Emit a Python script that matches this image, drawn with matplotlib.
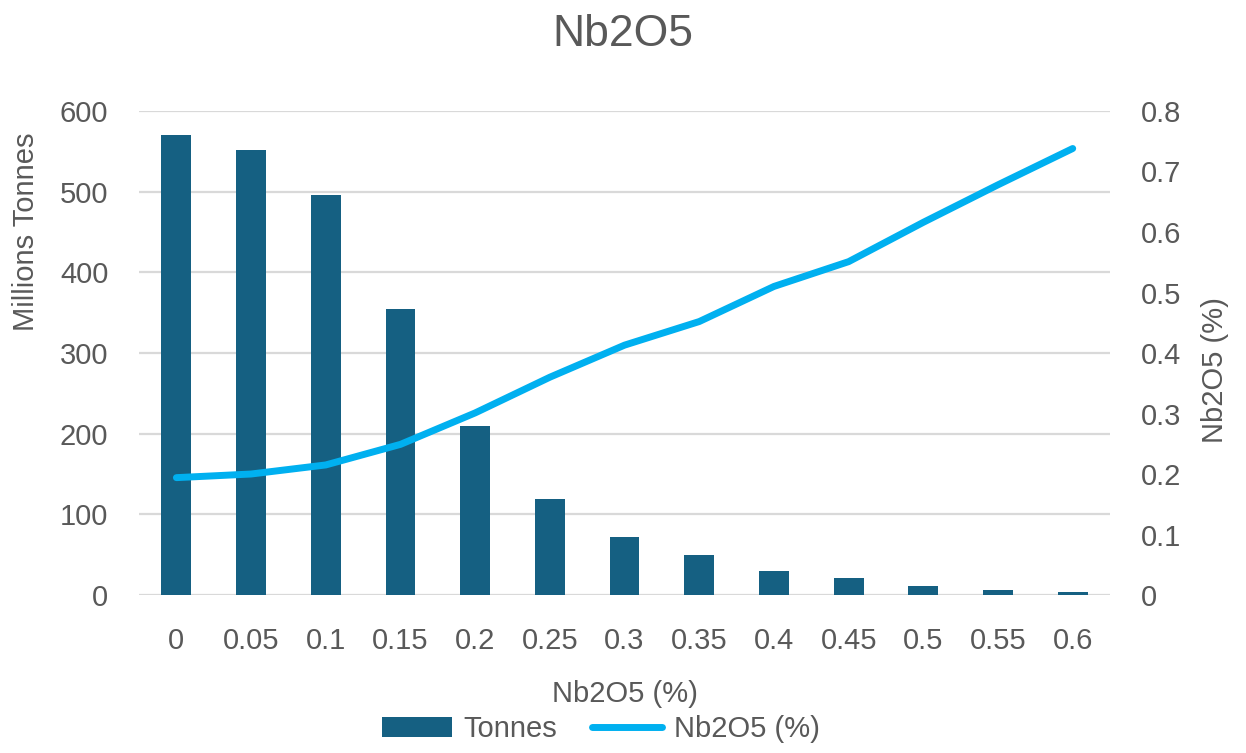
import matplotlib.pyplot as plt

plt.rcParams['font.family'] = ['Liberation Sans', 'DejaVu Sans']

cutoffs = ['0', '0.05', '0.1', '0.15', '0.2', '0.25', '0.3', '0.35', '0.4', '0.45', '0.5', '0.55', '0.6']
tonnes = [570, 552, 496, 355, 209, 119, 72, 49, 30, 21, 11, 6.5, 4]
grade = [0.194, 0.200, 0.215, 0.249, 0.301, 0.360, 0.413, 0.452, 0.510, 0.551, 0.616, 0.678, 0.738]

txt = '#595959'
x = list(range(len(cutoffs)))

fig = plt.figure(figsize=(12.46, 7.53), dpi=100)
ax = fig.add_axes([0.1116, 0.2098, 0.7793, 0.6428])
ax.bar(x, tonnes, width=0.4, color='#156082', label='Tonnes', zorder=2)
ax.set_ylim(0, 600)
ax.set_yticks(range(0, 601, 100))
ax.set_xlim(-0.5, 12.5)
ax.set_xticks(x)
ax.set_xticklabels(cutoffs)
ax.grid(axis='y', color='#d9d9d9', linewidth=1.6)
ax.set_axisbelow(True)
for s in ax.spines.values():
    s.set_visible(False)
ax.tick_params(length=0, labelsize=21, colors=txt, pad=22)
ax.tick_params(axis='x', pad=23)
ax.set_xlabel('Nb2O5 (%)', fontsize=21, color=txt, labelpad=18)
ax.set_ylabel('Millions Tonnes', fontsize=21, color=txt)
ax.yaxis.set_label_coords(-0.116, 0.75)
ax.yaxis.label.set_va('center')

ax2 = ax.twinx()
ax2.plot(x, grade, color='#00b0f0', linewidth=5, solid_capstyle='round',
         solid_joinstyle='round', label='Nb2O5 (%)')
ax2.set_ylim(0, 0.8)
ax2.set_yticks([0, 0.1, 0.2, 0.3, 0.4, 0.5, 0.6, 0.7, 0.8])
ax2.set_yticklabels(['0', '0.1', '0.2', '0.3', '0.4', '0.5', '0.6', '0.7', '0.8'])
for s in ax2.spines.values():
    s.set_visible(False)
ax2.tick_params(length=0, labelsize=21, colors=txt, pad=22)
ax2.set_ylabel('Nb2O5 (%)', fontsize=21, color=txt, rotation=90)
ax2.yaxis.set_label_coords(1.108, 0.465)
ax2.yaxis.label.set_va('center')

# title sits a little lower than the default
fig.suptitle('Nb2O5', fontsize=32, color=txt, y=0.982, va='top')

h1, l1 = ax.get_legend_handles_labels()
h2, l2 = ax2.get_legend_handles_labels()
fig.legend(h1 + h2, l1 + l2, loc='center', bbox_to_anchor=(0.482, 1 - 729 / 753),
           ncol=2, frameon=False, fontsize=21, labelcolor=txt,
           handlelength=2.4, handletextpad=0.4, columnspacing=1.2)

fig.savefig('out.png', dpi=100)
